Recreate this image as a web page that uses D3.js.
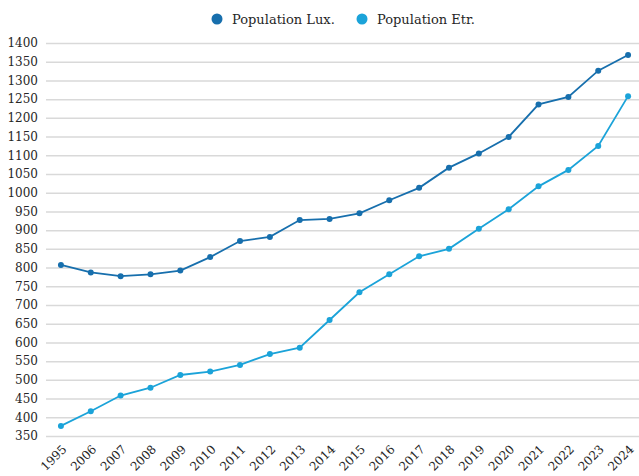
<!DOCTYPE html>
<html>
<head>
<meta charset="utf-8">
<script src="https://cdn.jsdelivr.net/npm/d3@7"></script>
<style>
  body { margin: 0; background: #fff; }
  svg text { font-family: "DejaVu Serif", serif; fill: #262626; }
</style>
</head>
<body>
<div id="chart"></div>
<script>
(function () {

    /* data */
    var years = ["1995", "2006", "2007", "2008", "2009", "2010", "2011", "2012", "2013", "2014",
        "2015", "2016", "2017", "2018", "2019", "2020", "2021", "2022", "2023", "2024"];
    var popLux = [807, 787, 777, 782, 792, 828, 871, 882, 927, 930,
        945, 980, 1013, 1067, 1105, 1149, 1236, 1256, 1326, 1368];
    var popEtr = [377, 416, 458, 479, 513, 522, 540, 569, 586, 660,
        734, 782, 830, 850, 904, 956, 1017, 1061, 1125, 1258];
    var yTicks = d3.range(350, 1401, 50);
    var seriesNames = ["Population Lux.", "Population Etr."];
    var seriesColors = ["#176fad", "#1ba3d9"];

    var width = 639, height = 476;
    var margin = { top: 43, right: -4, bottom: 40, left: 46 };

    var svg = d3.select("#chart").append("svg")
        .attr("width", width)
        .attr("height", height);

    var x = d3.scalePoint()
        .domain(years)
        .range([margin.left, width - margin.right])
        .padding(0.5);

    var y = d3.scaleLinear()
        .domain([350, 1400])
        .range([height - margin.bottom, margin.top]);

    // gridlines + y labels
    var yAxis = svg.append("g")
        .attr("transform", "translate(" + margin.left + ",0)")
        .call(d3.axisLeft(y).tickValues(yTicks).tickFormat(d3.format("d"))
            .tickSize(-(width - margin.left - margin.right)).tickPadding(8));
    yAxis.select(".domain").remove();
    yAxis.selectAll("line").attr("stroke", "#d9d9d9").attr("stroke-width", 1.5);
    yAxis.selectAll("text").style("font-size", "12px").attr("fill", "#262626");

    // x labels rotated
    var xAxis = svg.append("g")
        .attr("transform", "translate(0," + (height - margin.bottom) + ")")
        .call(d3.axisBottom(x).tickSize(0).tickPadding(0));
    xAxis.select(".domain").remove();
    xAxis.selectAll("text")
        .style("font-size", "12px")
        .attr("text-anchor", "end")
        .attr("dy", "0")
        .attr("transform", "translate(6,14) rotate(-45)");

    var allSeries = [popLux, popEtr];
    var line = d3.line()
        .x(function (d, i) { return x(years[i]); })
        .y(function (d) { return y(d); });

    allSeries.forEach(function (vals, k) {
        svg.append("path")
            .datum(vals)
            .attr("fill", "none")
            .attr("stroke", seriesColors[k])
            .attr("stroke-width", 1.8)
            .attr("d", line);
        svg.selectAll(".dot" + k)
            .data(vals)
            .enter().append("circle")
            .attr("class", "dot" + k)
            .attr("cx", function (d, i) { return x(years[i]); })
            .attr("cy", function (d) { return y(d); })
            .attr("r", 3)
            .attr("fill", seriesColors[k]);
    });

    // legend
    var legendX = [217, 362];
    var legend = svg.selectAll(".legend")
        .data(seriesNames)
        .enter().append("g")
        .attr("class", "legend")
        .attr("transform", function (d, i) { return "translate(" + legendX[i] + ",19)"; });
    legend.append("circle")
        .attr("r", 5.5)
        .attr("fill", function (d, i) { return seriesColors[i]; });
    legend.append("text")
        .attr("x", 15)
        .attr("dy", "0.35em")
        .style("font-size", "13px")
        .text(function (d) { return d; });
})();
</script>
</body>
</html>
